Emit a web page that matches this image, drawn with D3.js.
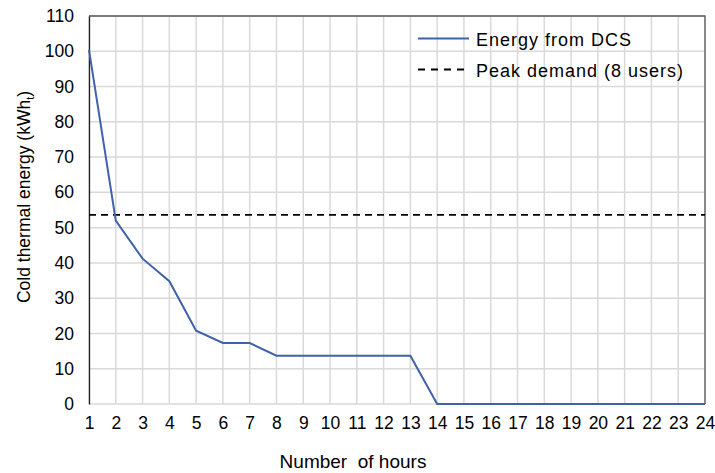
<!DOCTYPE html>
<html><head><meta charset="utf-8">
<script src="https://cdn.jsdelivr.net/npm/d3@7"></script>
<style>body{margin:0;background:#fff}svg{display:block}text{font-family:Arial,"Liberation Sans",sans-serif;fill:#000}</style>
</head><body><svg id="c" width="715" height="473"></svg>
<script>
const hours = [1,2,3,4,5,6,7,8,9,10,11,12,13,14,15,16,17,18,19,20,21,22,23,24];
const energyDCS = [100.4,52,41.2,34.8,20.8,17.3,17.3,13.7,13.7,13.7,13.7,13.7,13.7,0,0,0,0,0,0,0,0,0,0,0];
const peakDemand = 53.6;
const yTicks = [0,10,20,30,40,50,60,70,80,90,100,110];
const seriesNames = ["Energy from DCS","Peak demand (8 users)"];

const svg = d3.select("#c");
const L=89,R=705,T=16,B=404;
const x = d3.scaleLinear().domain([1,24]).range([L,R]);
const y = d3.scaleLinear().domain([0,110]).range([B,T]);

// grid
svg.append("g").selectAll("line").data(hours).join("line")
  .attr("x1",d=>x(d)).attr("x2",d=>x(d)).attr("y1",T).attr("y2",B)
  .attr("stroke","#d9d9d9").attr("stroke-width",1.5);
svg.append("g").selectAll("line").data(yTicks).join("line")
  .attr("x1",L).attr("x2",R).attr("y1",d=>y(d)).attr("y2",d=>y(d))
  .attr("stroke","#d9d9d9").attr("stroke-width",1.5);
// frame top/right
svg.append("path").attr("d",`M${L},${T}H${R}V${B}`).attr("fill","none").attr("stroke","#595959").attr("stroke-width",1.3);

// axes
const yAxis = d3.axisLeft(y).tickValues(yTicks).tickSize(0).tickPadding(15);
const gy = svg.append("g").attr("transform",`translate(${L},0)`).call(yAxis);
gy.select(".domain").attr("stroke","#222").attr("stroke-width",1.3);
gy.selectAll("text").style("font-size","17.5px").attr("fill","#000");
const xAxis = d3.axisBottom(x).tickValues(hours).tickSize(0).tickPadding(13).tickFormat(d3.format("d"));
const gx = svg.append("g").attr("transform",`translate(0,${B})`).call(xAxis);
gx.select(".domain").remove();
gx.selectAll("text").style("font-size","17.5px").attr("fill","#000");

// peak demand
svg.append("line").attr("x1",L).attr("x2",R).attr("y1",y(peakDemand)).attr("y2",y(peakDemand))
  .attr("stroke","#000").attr("stroke-width",1.8).attr("stroke-dasharray","7,5");
// data line
const line = d3.line().x((d,i)=>x(hours[i])).y(d=>y(d));
svg.append("path").datum(energyDCS).attr("d",line).attr("fill","none")
  .attr("stroke","#4062a8").attr("stroke-width",2);

// labels
svg.append("text").attr("x",353).attr("y",468).attr("text-anchor","middle").style("font-size","19px").attr("xml:space","preserve").text("Number  of hours");
const yl = svg.append("text").attr("transform","translate(30,197) rotate(-90)").attr("text-anchor","middle").style("font-size","17.5px");
yl.append("tspan").text("Cold thermal energy (kWh");
yl.append("tspan").attr("dy",4).style("font-size","11px").text("t");
yl.append("tspan").attr("dy",-4).text(")");

// legend
const lg = svg.append("g");
lg.append("line").attr("x1",418).attr("x2",469).attr("y1",38.5).attr("y2",38.5).attr("stroke","#4062a8").attr("stroke-width",2);
lg.append("line").attr("x1",418).attr("x2",469).attr("y1",69.5).attr("y2",69.5).attr("stroke","#000").attr("stroke-width",1.8).attr("stroke-dasharray","7,6");
lg.selectAll("text").data(seriesNames).join("text").attr("x",476).attr("y",(d,i)=>45.5+i*31.5).style("font-size","18px").style("letter-spacing","1px").text(d=>d);
</script></body></html>
